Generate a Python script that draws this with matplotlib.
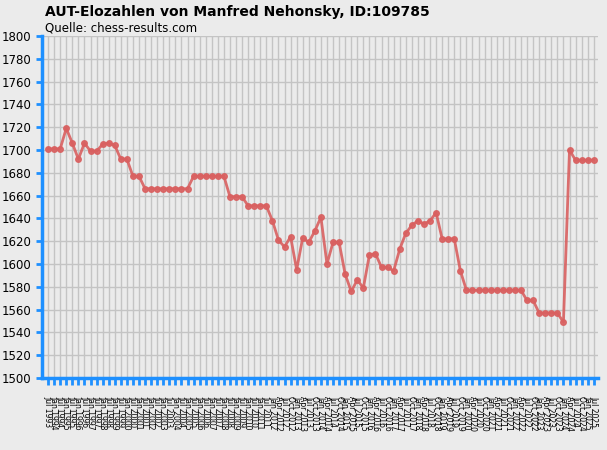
import matplotlib
matplotlib.use("Agg")
import matplotlib.pyplot as plt

elo = [1701,1701,1701,1719,1706,1692,1706,1699,1699,1705,1706,1704,1692,1692,1677,1677,
       1666,1666,1666,1666,1666,1666,1666,1666,
       1677,1677,1677,1677,1677,1677,
       1659,1659,1659,1651,1651,1651,1651,
       1638,1621,1615,1624,1595,1623,1619,1629,1641,1600,1619,1619,1591,1576,1586,1579,
       1608,1609,1597,1597,1594,1613,1627,1634,1638,
       1635,1638,1645,1622,1622,1622,1594,
       1577,1577,1577,1577,1577,1577,1577,1577,1577,1577,
       1568,1568,1557,1557,1557,1557,1549,1700,1691,1691,1691,1691]

labels = []
for y in range(1993, 2012):
    labels += ["Jul %d" % y, "Jan %d" % (y + 1)]
for y in range(2012, 2026):
    for m in ["Apr", "Jul", "Oct", "Jan"]:
        labels.append("%s %d" % (m, y if m != "Jan" else y + 1))
labels = labels[:len(elo) - 1] + ["Jul 2025"]

fig = plt.figure(figsize=(6.07, 4.5), dpi=100)
fig.patch.set_facecolor("#ebebeb")
ax = fig.add_axes([42/607, 1 - 378/450, (598-42)/607, (378-36)/450])
ax.set_facecolor("#ebebeb")
x = list(range(len(elo)))
ax.plot(x, elo, color="#d96060", lw=2, marker="o", ms=4, alpha=0.9)
ax.set_xlim(-1, len(elo) - 0.3)
ax.set_ylim(1500, 1800)
ax.set_yticks(range(1500, 1801, 20))
ax.set_xticks(x)
ax.set_xticklabels(labels, rotation=-90, fontsize=5.5)
ax.tick_params(axis="y", labelsize=8.5, length=4, color="#1e90ff", width=2)
ax.tick_params(axis="x", length=5, color="#1e90ff", width=2, pad=8)
ax.grid(True, color="#c4c4c4", lw=1)
ax.set_axisbelow(True)
for s in ["top", "right"]:
    ax.spines[s].set_visible(False)
for s in ["left", "bottom"]:
    ax.spines[s].set_color("#1e90ff")
    ax.spines[s].set_linewidth(2.5)
fig.text(45/607, 1 - 12/450, "AUT-Elozahlen von Manfred Nehonsky, ID:109785", fontsize=10,
         fontweight="bold", va="center")
fig.text(45/607, 1 - 28/450, "Quelle: chess-results.com", fontsize=8.5, va="center")
fig.savefig("out.png", dpi=100, facecolor=fig.get_facecolor())
